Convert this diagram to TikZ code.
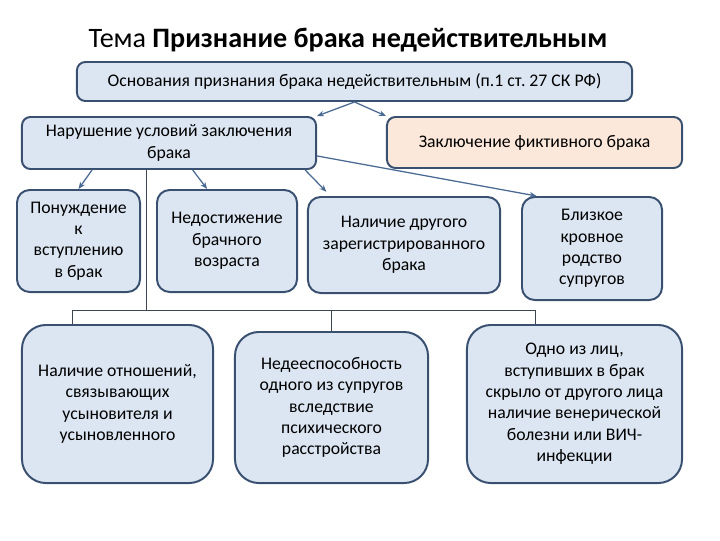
\documentclass[tikz,border=0pt]{standalone}
\usepackage{fontspec}
\setmainfont{Carlito}
\usetikzlibrary{arrows.meta, positioning, calc}
\definecolor{boxfill}{RGB}{220,230,242}
\definecolor{fiktfill}{RGB}{252,232,218}
\definecolor{boxedge}{RGB}{58,80,112}
\definecolor{arrblue}{RGB}{74,106,148}
\definecolor{linkgray}{RGB}{62,70,82}
\newcommand{\bodyfont}{\fontsize{12.6}{15.2}\selectfont}

\begin{document}
\begin{tikzpicture}[
    x=0.025cm, y=-0.025cm,
    >=Stealth,
    box/.style={draw=boxedge, fill=boxfill, line width=1.4pt, align=center,
                inner sep=2pt, font=\bodyfont, text=black},
    topbox/.style={box, rounded corners=6pt},
    midbox/.style={box, rounded corners=9pt},
    bigbox/.style={box, rounded corners=17pt},
    arr/.style={-{Stealth[length=5pt,width=4pt]}, arrblue, line width=0.9pt},
    link/.style={linkgray, line width=0.7pt},
]
\useasboundingbox (0,0) rectangle (720,540);

\node[font=\fontsize{20}{24}\selectfont] (tema) at (348,40)
    {Тема \textbf{Признание брака недействительным}};

\node[topbox, minimum width=13.875cm, minimum height=0.975cm] (osnov) at (354.5,81.5)
    {Основания признания брака недействительным (п.1 ст.\ 27 СК РФ)};

\node[topbox, minimum width=7.35cm, minimum height=1.3cm] (narush) at (169,143)
    {Нарушение условий заключения\\брака};
\node[topbox, fill=fiktfill, minimum width=7.375cm, minimum height=1.275cm] (fikt) at (534.5,142.5)
    {Заключение фиктивного брака};

\node[midbox, minimum width=3.075cm, minimum height=2.55cm] (ponuzh) at (78.5,241)
    {Понуждение\\к\\вступлению\\в брак};
\node[midbox, minimum width=3.5cm, minimum height=2.55cm] (nedost) at (227,241)
    {Недостижение\\брачного\\возраста};
\node[midbox, minimum width=4.8cm, minimum height=2.4cm] (drugoy) at (404,245)
    {Наличие другого\\зарегистрированного\\брака};
\node[midbox, minimum width=3.5cm, minimum height=2.575cm] (rodstvo) at (592,248.5)
    {Близкое\\кровное\\родство\\супругов};

\node[bigbox, minimum width=4.775cm, minimum height=3.95cm] (usynov) at (117.5,404)
    {Наличие отношений,\\связывающих\\усыновителя и\\усыновленного};
\node[bigbox, minimum width=4.825cm, minimum height=3.775cm] (nedeesp) at (331.5,407.5)
    {Недееспособность\\одного из супругов\\вследствие\\психического\\расстройства};
\node[bigbox, minimum width=5.375cm, minimum height=3.95cm] (venerich) at (574.5,404)
    {Одно из лиц,\\вступивших в брак\\скрыло от другого лица\\наличие венерической\\болезни или ВИЧ-\\инфекции};

% from the heading box
\draw[arr] (osnov.south) -- (narush.north east);
\draw[arr] (osnov.south) -- (fikt.north west);

% violations of the conditions
\draw[arr] ($(narush.south west)!0.24!(narush.south east)$) -- (ponuzh.north);
\draw[arr] ($(narush.south west)!0.58!(narush.south east)$)
    -- ($(nedost.north west)!0.36!(nedost.north east)$);
\draw[arr] ($(narush.south west)!0.96!(narush.south east)$)
    -- ([yshift=3pt]$(drugoy.north west)!0.1!(drugoy.north east)$);
\draw[arr] (narush.-5) -- ($(rodstvo.north west)!0.11!(rodstvo.north east)$);

% bus to the bottom row
\coordinate (busY) at (0,310);
\coordinate (narushdrop) at ($(narush.south west)!0.425!(narush.south east)$);
\coordinate (usdrop) at ($(usynov.north west)!0.267!(usynov.north east)$);
\coordinate (vndrop) at ($(venerich.north west)!0.32!(venerich.north east)$);
\draw[link] (narushdrop) -- (narushdrop |- busY);
\draw[link] (usdrop) -- (usdrop |- busY) -- (vndrop |- busY) -- (vndrop);
\draw[link] (nedeesp.north) -- (nedeesp.north |- busY);

\end{tikzpicture}
\end{document}
